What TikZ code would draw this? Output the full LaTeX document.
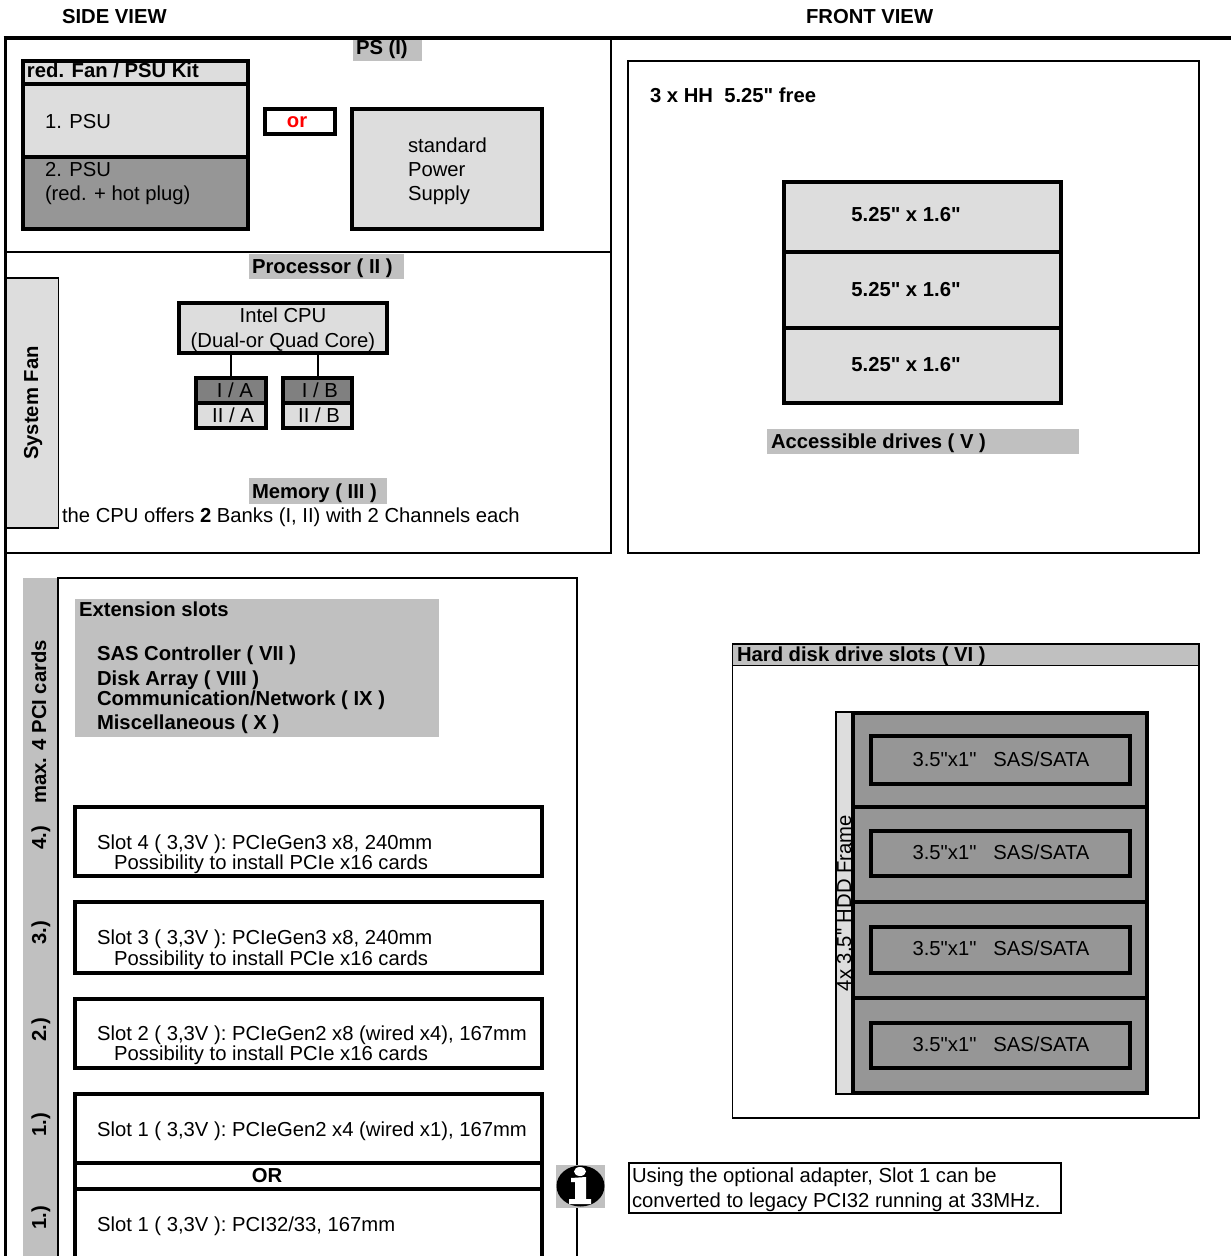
\documentclass[tikz,border=0pt]{standalone}
\usepackage{fontspec}
\setmainfont{Liberation Sans}[Ligatures=TeXOff]
\definecolor{lg}{HTML}{DDDDDD}
\definecolor{mg}{HTML}{C0C0C0}
\definecolor{dg}{HTML}{969696}
\definecolor{dk}{HTML}{808080}
\tikzset{
 bxs/.style={inner sep=0pt,outer sep=0pt,rectangle},
 thin box/.style={bxs,draw=black,line width=1.8pt},
 thick box/.style={bxs,draw=black,line width=3.6pt},
 plain fill/.style={bxs},
 txt/.style={inner sep=0pt,outer sep=0pt,text height=14pt,text depth=0pt,font=\fontsize{20.25}{24}\selectfont,text=black},
 lft/.style={txt,anchor=west},
 bld/.style={txt,anchor=west,font=\fontsize{20.25}{24}\selectfont\bfseries},
 ctr/.style={txt},
 bctr/.style={txt,font=\fontsize{20.25}{24}\selectfont\bfseries},
 link/.style={draw=black,line width=2pt},
 rule/.style={draw=black,line width=2pt}
}
\newcommand{\bx}[6]{\node[#6,minimum width={(#4-(#2))*1pt},minimum height={(#5-(#3))*1pt}] (#1) at ({(#2+#4)/2},{(#3+#5)/2}) {};}
\begin{document}
\begin{tikzpicture}[x=1pt,y=-1pt]
\useasboundingbox (0,0) rectangle (1231,1256);
\clip (0,0) rectangle (1231,1256);
\fill[white] (0,0) rectangle (1231,1256);
% headers
\node[bld] (side) at (62,16) {SIDE VIEW};
\node[bld] (front) at (806,16) {FRONT VIEW};
% PS section
\bx{psl}{353}{39}{422}{61}{plain fill,fill=mg}
\node[bld] (pst) at (356,47) {PS (I)};
\bx{side frame}{5.5}{38}{611}{553}{bxs,draw=black,line width=2pt}
\draw[draw=black,line width=4pt] (3.5,38) -- (1240,38);
\draw[draw=black,line width=3pt] (5.5,38) -- (5.5,1260);
\draw[rule] (side frame.west |- 0,252) -- (side frame.east |- 0,252);
\bx{kit}{23}{61}{248}{84}{thick box,fill=lg}
\bx{psu1}{23}{84}{248}{157}{thick box,fill=lg}
\bx{psu2}{23}{157}{248}{229}{thick box,fill=dg}
\node[bld] (kitt) at (27,70.5) {red. Fan / PSU Kit};
\node[lft] (psu1t) at (45,121) {1. PSU};
\node[lft] (psu2t) at (45,169) {2. PSU};
\node[lft] (psu2u) at (45,193) {(red. + hot plug)};
\bx{orb}{265}{109}{335}{134}{thick box,fill=white}
\node[bctr,text=red] (ort) at (297,120) {or};
\bx{std}{352}{109}{542}{229}{thick box,fill=lg}
\node[lft] (stda) at (408,145) {standard};
\node[lft] (stdb) at (408,169) {Power};
\node[lft] (stdc) at (408,193) {Supply};
% Processor
\bx{procl}{249}{254}{404}{279}{plain fill,fill=mg}
\node[bld] (proct) at (252,266) {Processor ( II )};
\bx{fan}{6}{278}{58.5}{528}{thin box,fill=lg}
\node[bctr,rotate=90] (fant) at (31,403) {System Fan};
\bx{cpu}{179}{303}{387}{353}{thick box,fill=lg}
\node[ctr] (cpua) at (283,315) {Intel CPU};
\node[ctr] (cpub) at (283,340) {(Dual-or Quad Core)};
\bx{ia}{196}{378}{266}{403}{thick box,fill=dk}
\bx{iia}{196}{403}{266}{428}{thick box,fill=lg}
\bx{ib}{283}{378}{352}{403}{thick box,fill=dk}
\bx{iib}{283}{403}{352}{428}{thick box,fill=lg}
\draw[link] (ia.north |- cpu.south) -- (ia.north);
\draw[link] (ib.north |- cpu.south) -- (ib.north);
\node[ctr] (iat) at (235,390) {I / A};
\node[ctr] (iiat) at (233,415) {II / A};
\node[ctr] (ibt) at (320,390) {I / B};
\node[ctr] (iibt) at (319,415) {II / B};
\bx{meml}{249}{478}{387}{504}{plain fill,fill=mg}
\node[bld] (memt) at (252,491) {Memory ( III )};
\node[lft] (cput) at (62,515.5) {the CPU offers \textbf{2} Banks (I, II) with 2 Channels each};
% Front view
\bx{fv}{628}{61}{1199}{553}{thin box}
\node[bld] (hh) at (650,95) {3 x HH\ \ 5.25" free};
\bx{da}{784}{182}{1061}{252}{thick box,fill=lg}
\bx{db}{784}{252}{1061}{328}{thick box,fill=lg}
\bx{dc}{784}{328}{1061}{403}{thick box,fill=lg}
\node[bctr] (dat) at (906,214) {5.25" x 1.6"};
\node[bctr] (dbt) at (906,289) {5.25" x 1.6"};
\node[bctr] (dct) at (906,364) {5.25" x 1.6"};
\bx{accl}{767}{429}{1079}{454}{plain fill,fill=mg}
\node[bld] (acct) at (771,441) {Accessible drives ( V )};
% PCI panel
\bx{strip}{23}{578}{58}{1270}{plain fill,fill=mg}
\bx{pci}{58}{578}{577}{1270}{thin box}
\node[bctr,rotate=90] (maxt) at (39,722) {max. 4 PCI cards};
\node[bctr,rotate=90] (s4) at (39,838) {4.)};
\node[bctr,rotate=90] (s3) at (39,933) {3.)};
\node[bctr,rotate=90] (s2) at (39,1030) {2.)};
\node[bctr,rotate=90] (s1) at (39,1125) {1.)};
\node[bctr,rotate=90] (s0) at (39,1218) {1.)};
\bx{ext}{75}{599}{439}{737}{plain fill,fill=mg}
\node[bld] (extt) at (79,609) {Extension slots};
\node[bld] (sas) at (97,653) {SAS Controller ( VII )};
\node[bld] (disk) at (97,678) {Disk Array ( VIII )};
\node[bld] (comm) at (97,698) {Communication/Network ( IX )};
\node[bld] (misc) at (97,722) {Miscellaneous ( X )};
\bx{b4}{75}{807}{542}{876}{thick box}
\node[lft] (b4a) at (97,842) {Slot 4 ( 3,3V ): PCIeGen3 x8, 240mm};
\node[lft] (b4b) at (114,862) {Possibility to install PCIe x16 cards};
\bx{b3}{75}{902}{542}{973}{thick box}
\node[lft] (b3a) at (97,937) {Slot 3 ( 3,3V ): PCIeGen3 x8, 240mm};
\node[lft] (b3b) at (114,958) {Possibility to install PCIe x16 cards};
\bx{b2}{75}{999}{542}{1068}{thick box}
\node[lft] (b2a) at (97,1033) {Slot 2 ( 3,3V ): PCIeGen2 x8 (wired x4), 167mm};
\node[lft] (b2b) at (114,1053) {Possibility to install PCIe x16 cards};
\bx{b1}{75}{1094}{542}{1163}{thick box}
\bx{bor}{75}{1163}{542}{1189}{thick box}
\bx{b0}{75}{1189}{542}{1275}{thick box}
\node[lft] (b1a) at (97,1129) {Slot 1 ( 3,3V ): PCIeGen2 x4 (wired x1), 167mm};
\node[bctr] (bort) at (267,1175) {OR};
\node[lft] (b0a) at (97,1224) {Slot 1 ( 3,3V ): PCI32/33, 167mm};
% info icon
\fill[mg] (556,1165) rectangle (605,1208);
\fill[black] (580.5,1186) ellipse [x radius=24,y radius=20.5];
\fill[white] (580,1171.5) ellipse [x radius=6,y radius=4.5];
\fill[white] (571,1178) -- (586,1177) -- (586,1199) -- (591,1199) -- (591,1204) -- (569,1204) -- (569,1199) -- (575,1199) -- (575,1182) -- (571,1182) -- cycle;
% note
\bx{note}{629}{1163}{1061}{1213}{thin box}
\node[lft] (notea) at (632,1175.5) {Using the optional adapter, Slot 1 can be};
\node[lft] (noteb) at (632,1200) {converted to legacy PCI32 running at 33MHz.};
% HDD panel
\bx{hdd}{732.5}{644}{1199}{1118}{thin box}
\bx{hddh}{732.5}{644}{1199}{665.5}{thin box,fill=mg}
\node[bld] (hddt) at (737,654) {Hard disk drive slots ( VI )};
\bx{frame}{836}{712}{852}{1094}{thin box,fill=lg}
\node[ctr,rotate=90] (framet) at (844,903) {4x 3.5" HDD Frame};
\bx{ha}{853.5}{713}{1147}{807}{thick box,fill=dg}
\bx{hb}{853.5}{807}{1147}{902}{thick box,fill=dg}
\bx{hc}{853.5}{902}{1147}{998}{thick box,fill=dg}
\bx{hd}{853.5}{998}{1147}{1093}{thick box,fill=dg}
\bx{ga}{871}{736}{1130}{784}{thick box}
\bx{gb}{871}{831}{1130}{876}{thick box}
\bx{gc}{871}{927}{1130}{973}{thick box}
\bx{gd}{871}{1023}{1130}{1068}{thick box}
\node[ctr] (gat) at (1001,759) {3.5"x1"\ \ \ SAS/SATA};
\node[ctr] (gbt) at (1001,852) {3.5"x1"\ \ \ SAS/SATA};
\node[ctr] (gct) at (1001,948) {3.5"x1"\ \ \ SAS/SATA};
\node[ctr] (gdt) at (1001,1044) {3.5"x1"\ \ \ SAS/SATA};
\end{tikzpicture}
\end{document}
